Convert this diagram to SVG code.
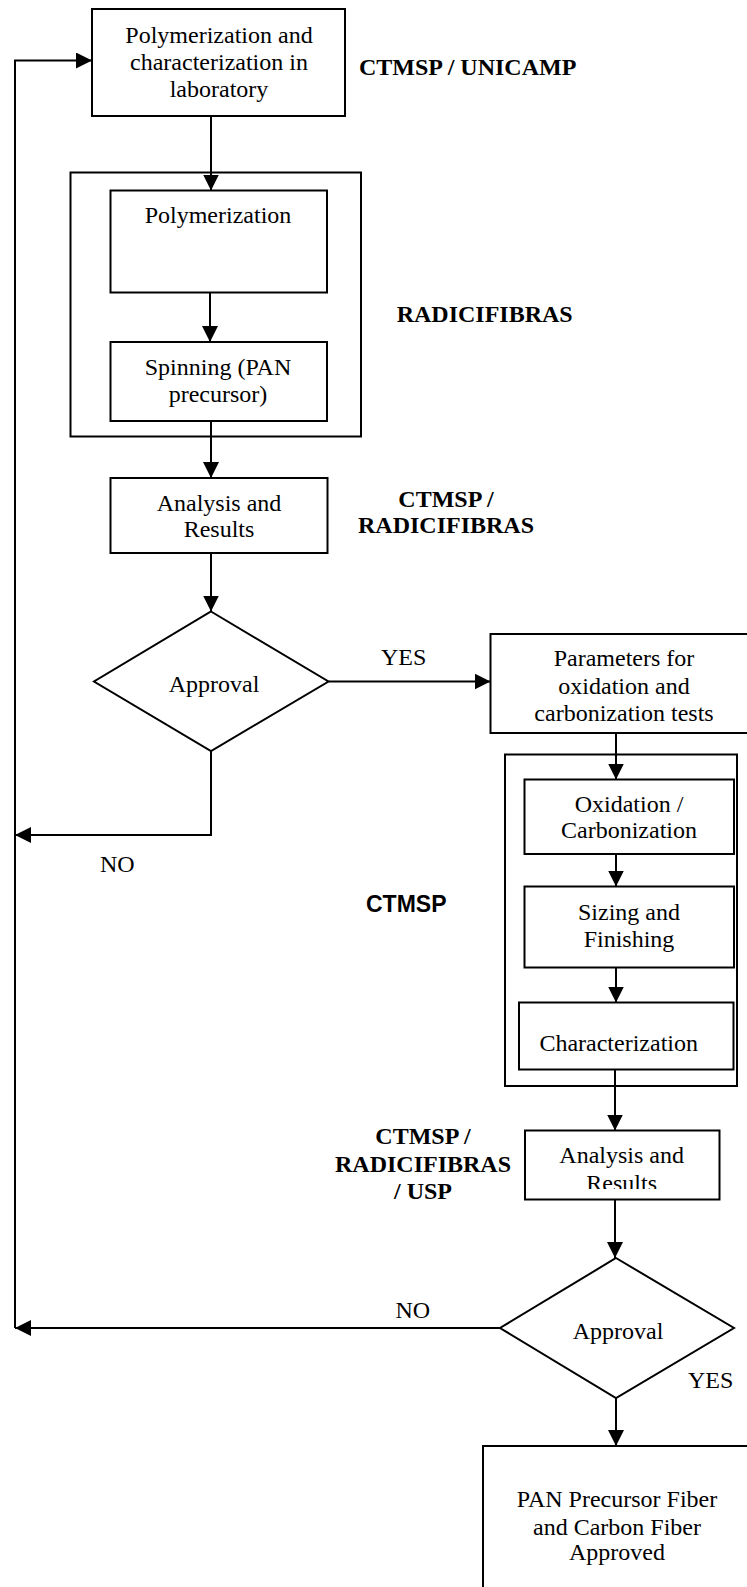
<svg xmlns="http://www.w3.org/2000/svg" width="747" height="1587" viewBox="0 0 747 1587">
<style>
.box{fill:#fff;stroke:#000;stroke-width:2}
.grp{fill:none;stroke:#000;stroke-width:2}
.t{font-family:"Liberation Serif","Times New Roman",serif;font-size:24px;fill:#000;text-anchor:middle}
.tl{font-family:"Liberation Serif","Times New Roman",serif;font-size:24px;fill:#000}
.b{font-family:"Liberation Serif","Times New Roman",serif;font-size:24px;font-weight:bold;fill:#000;text-anchor:middle}
.bs{font-family:"Liberation Sans",Arial,sans-serif;font-size:23px;font-weight:bold;fill:#000}
.c{fill:none;stroke:#000;stroke-width:2;marker-end:url(#ah)}
.l{fill:none;stroke:#000;stroke-width:2}
</style>
<defs>
<marker id="ah" markerUnits="userSpaceOnUse" markerWidth="16" markerHeight="16" refX="16" refY="8" orient="auto">
<path d="M0,0 L16,8 L0,16 z" fill="#000"/>
</marker>
<clipPath id="clipRes"><rect x="526" y="1131" width="193" height="58"/></clipPath>
</defs>
<rect width="747" height="1587" fill="#fff"/>

<g id="connectors">
<path class="c" d="M15,1328 V60.5 H92"/>
<path class="c" d="M211,116 V190.5"/>
<path class="c" d="M210,292.5 V342"/>
<path class="c" d="M211,421 V478"/>
<path class="c" d="M211,553 V611.5"/>
<path class="c" d="M328.5,681.5 H490.5"/>
<path class="c" d="M211,751 V835 H15"/>
<path class="c" d="M616,733 V779.5"/>
<path class="c" d="M616,854 V886.5"/>
<path class="c" d="M616,967.5 V1002.5"/>
<path class="c" d="M615,1069.5 V1130.5"/>
<path class="c" d="M615,1199.5 V1258"/>
<path class="c" d="M500,1328 H15"/>
<path class="c" d="M616,1398 V1446"/>
</g>

<g id="lab-node">
<rect class="box" x="92" y="9" width="253" height="107"/>
<text class="t" x="219" y="42.5">Polymerization and</text>
<text class="t" x="219" y="69.5">characterization in</text>
<text class="t" x="219" y="97">laboratory</text>
</g>
<g id="label-unicamp"><text class="tl" x="359" y="75.3" font-weight="bold">CTMSP / UNICAMP</text></g>

<g id="radicifibras-group">
<rect class="grp" x="70.5" y="172.5" width="290.5" height="264"/>
</g>
<g id="polymerization">
<rect class="box" x="110.5" y="190.5" width="216.5" height="102"/>
<text class="t" x="218" y="223">Polymerization</text>
</g>
<g id="spinning">
<rect class="box" x="110.5" y="342" width="216.5" height="79"/>
<text class="t" x="218" y="375">Spinning (PAN</text>
<text class="t" x="218" y="402">precursor)</text>
</g>
<g id="label-radicifibras"><text class="tl" x="396.7" y="322.3" font-weight="bold">RADICIFIBRAS</text></g>

<g id="analysis1">
<rect class="box" x="110.5" y="478" width="217" height="75"/>
<text class="t" x="219" y="510.7">Analysis and</text>
<text class="t" x="219" y="537.3">Results</text>
</g>
<g id="label-ctmsp-radici">
<text class="b" x="446" y="506.7">CTMSP /</text>
<text class="b" x="446" y="533.3">RADICIFIBRAS</text>
</g>

<g id="approval1">
<polygon class="box" points="211,611.5 328.5,681.5 211,751 94,681.5"/>
<text class="t" x="214" y="691.7">Approval</text>
</g>
<g id="yes1"><text class="tl" x="381" y="665">YES</text></g>
<g id="no1"><text class="tl" x="100" y="871.7">NO</text></g>

<g id="parameters">
<rect class="box" x="490.5" y="634" width="270" height="99"/>
<text class="t" x="624" y="666">Parameters for</text>
<text class="t" x="624" y="694">oxidation and</text>
<text class="t" x="624" y="720.7">carbonization tests</text>
</g>

<g id="ctmsp-group">
<rect class="grp" x="505" y="754.5" width="232" height="331.5"/>
</g>
<g id="oxidation">
<rect class="box" x="524.5" y="779.5" width="209.5" height="74.5"/>
<text class="t" x="629" y="811.7">Oxidation /</text>
<text class="t" x="629" y="838.3">Carbonization</text>
</g>
<g id="sizing">
<rect class="box" x="524.5" y="886.5" width="209.5" height="81"/>
<text class="t" x="629" y="920">Sizing and</text>
<text class="t" x="629" y="947.3">Finishing</text>
</g>
<g id="characterization">
<rect class="box" x="519" y="1002.5" width="214.5" height="67"/>
<text class="t" x="618.7" y="1050.7">Characterization</text>
</g>
<g id="label-ctmsp"><text class="bs" x="366" y="911.7">CTMSP</text></g>

<g id="analysis2">
<rect class="box" x="525" y="1130.5" width="194.5" height="69"/>
<text class="t" x="621.7" y="1162.7">Analysis and</text>
<text class="t" x="621.7" y="1191" clip-path="url(#clipRes)">Results</text>
</g>
<g id="label-ctmsp-radici-usp">
<text class="b" x="423" y="1144">CTMSP /</text>
<text class="b" x="423" y="1171.7">RADICIFIBRAS</text>
<text class="b" x="423" y="1199">/ USP</text>
</g>

<g id="approval2">
<polygon class="box" points="616,1258 734,1328 616,1398 500,1328"/>
<text class="t" x="618" y="1339.3">Approval</text>
</g>
<g id="no2"><text class="tl" x="395.4" y="1318.3">NO</text></g>
<g id="yes2"><text class="tl" x="688" y="1388.3">YES</text></g>

<g id="final">
<rect class="box" x="483" y="1446" width="290" height="200"/>
<text class="t" x="617" y="1506.7">PAN Precursor Fiber</text>
<text class="t" x="617" y="1535">and Carbon Fiber</text>
<text class="t" x="617" y="1560">Approved</text>
</g>
</svg>
